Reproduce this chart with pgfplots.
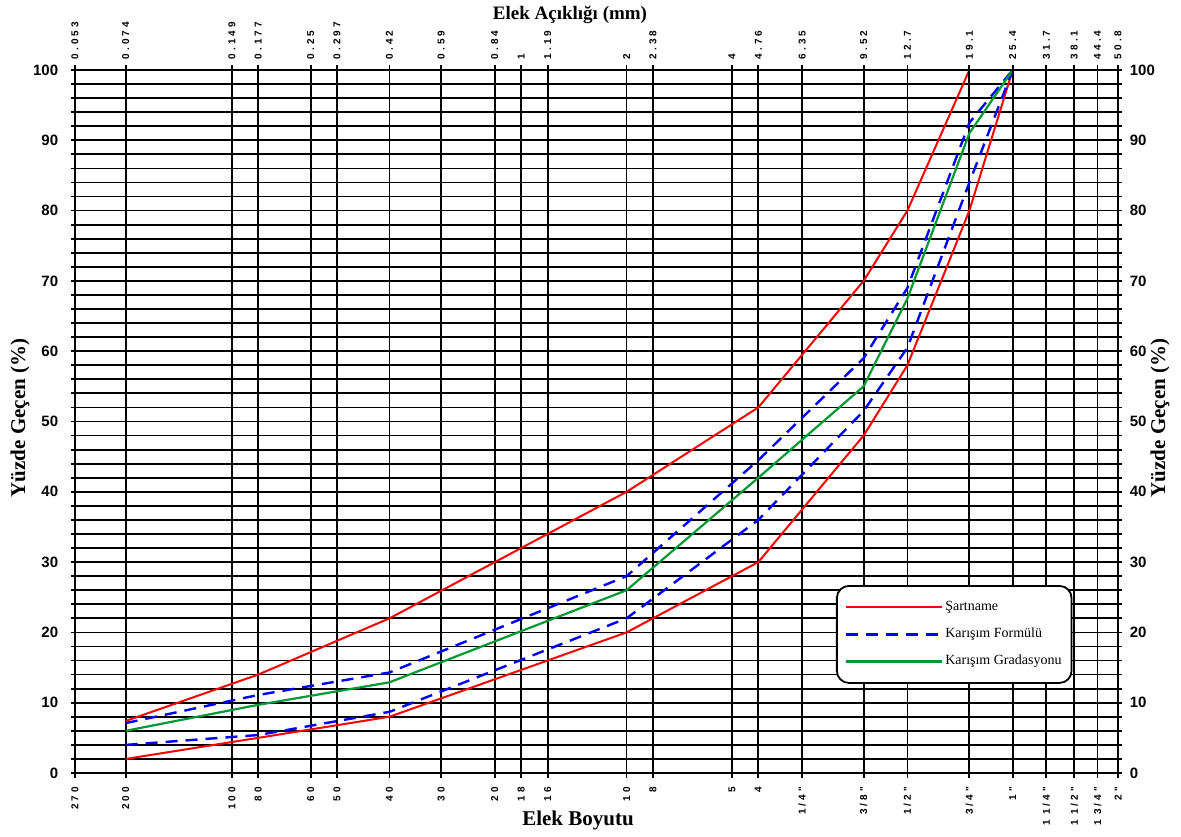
\documentclass[border=0pt]{standalone}
\usepackage{fontspec}
\setmainfont{Liberation Serif}
\newfontfamily\tickfont{Liberation Sans}[LetterSpace=30]
\newfontfamily\ytickfont{Liberation Sans}
\usepackage{pgfplots}
\pgfplotsset{compat=1.18}
\definecolor{sred}{RGB}{255,0,0}
\definecolor{sblue}{RGB}{0,0,255}
\definecolor{sgreen}{RGB}{0,153,51}
\begin{document}
\begin{tikzpicture}
\path[use as bounding box] (0,0) rectangle (590.5pt,418pt);
\begin{axis}[
  xmode=log, xmin=0.053, xmax=50.8, ymin=0, ymax=100,
  at={(37.5pt,31.5pt)}, anchor=south west,
  scale only axis, width=521.5pt, height=351.5pt,
  xtick={0.053,0.074,0.149,0.177,0.25,0.297,0.42,0.59,0.84,1,1.19,2,2.38,4,4.76,6.35,9.52,12.7,19.1,25.4,31.7,38.1,44.4,50.8},
  ytick={0,10,20,30,40,50,60,70,80,90,100},
  yticklabels={0,10,20,30,40,50,60,70,80,90,100},
  minor y tick num=4,
  tick align=center,
  major tick length=4.5pt, minor tick length=4.5pt,
  tick style={black, line width=0.9pt},
  axis line style={black, line width=0.9pt},
  xtick pos=left, ytick pos=left,
  xticklabels={270,200,100,80,60,50,40,30,20,18,16,10,8,5,4,1/4",3/8",1/2",3/4",1",1 1/4",1 1/2",1 3/4",2"},
  xticklabel style={font=\tickfont\bfseries\fontsize{5}{6}\selectfont, rotate=90, inner sep=0pt, anchor=east},
  yticklabel style={font=\ytickfont\bfseries\fontsize{7.5}{8}\selectfont, inner sep=0pt, anchor=east},
  xticklabel shift=4.5pt,
  yticklabel shift=6pt,
  xmajorgrids, ymajorgrids, yminorgrids,
  major grid style={black, line width=0.9pt},
  minor grid style={black, line width=0.9pt},
  legend style={
    at={(0.7296,0.2674)}, anchor=north west,
    draw=black, line width=0.9pt, rounded corners=6pt, fill=white,
    font=\fontsize{7}{8}\selectfont,
    inner xsep=4pt, inner ysep=6.5pt,
    row sep=5pt,
    nodes={inner sep=1pt, text height=5pt, text depth=1.5pt},
  },
  legend cell align=left,
  legend image code/.code={\draw[#1] (0pt,0pt) -- (48pt,0pt);},
]
\addplot[sred, line width=1pt] coordinates {(0.074,2) (0.177,5) (0.42,8) (2.0,20) (4.76,30) (9.52,48) (12.7,58) (19.1,80) (25.4,100)};
\addlegendentry{Şartname}
\addplot[sred, line width=1pt, forget plot] coordinates {(0.074,7.4) (0.177,14) (0.42,22) (2.0,40) (4.76,52) (9.52,70) (12.7,80) (19.1,100)};
\addplot[sblue, line width=1.2pt, dash pattern=on 6pt off 4pt] coordinates {(0.074,7.1) (0.177,11.1) (0.42,14.3) (2.0,28) (4.76,44.5) (9.52,59) (12.7,69) (19.1,92.5) (25.4,100)};
\addlegendentry{Karışım Formülü}
\addplot[sblue, line width=1.2pt, dash pattern=on 6pt off 4pt, forget plot] coordinates {(0.074,4) (0.177,5.4) (0.42,8.7) (2.0,22) (4.76,36) (9.52,51.5) (12.7,60.5) (19.1,84) (25.4,100)};
\addplot[sgreen, line width=1.1pt] coordinates {(0.074,6) (0.177,9.7) (0.42,12.9) (2.0,26) (4.76,42) (9.52,55) (12.7,67.5) (19.1,91) (25.4,100)};
\addlegendentry{Karışım Gradasyonu}
\end{axis}
\begin{axis}[
  xmode=log, xmin=0.053, xmax=50.8, ymin=0, ymax=100,
  at={(37.5pt,31.5pt)}, anchor=south west,
  scale only axis, width=521.5pt, height=351.5pt,
  axis x line*=top, axis y line*=right,
  xtick={0.053,0.074,0.149,0.177,0.25,0.297,0.42,0.59,0.84,1,1.19,2,2.38,4,4.76,6.35,9.52,12.7,19.1,25.4,31.7,38.1,44.4,50.8},
  xticklabels={0.053,0.074,0.149,0.177,0.25,0.297,0.42,0.59,0.84,1,1.19,2,2.38,4,4.76,6.35,9.52,12.7,19.1,25.4,31.7,38.1,44.4,50.8},
  ytick={0,10,20,30,40,50,60,70,80,90,100},
  yticklabels={0,10,20,30,40,50,60,70,80,90,100},
  minor y tick num=4,
  tick align=center,
  major tick length=4.5pt, minor tick length=4.5pt,
  tick style={black, line width=0.9pt},
  axis line style={black, line width=0.9pt},
  xticklabel style={font=\tickfont\bfseries\fontsize{5}{6}\selectfont, rotate=90, inner sep=0pt, anchor=west},
  yticklabel style={font=\ytickfont\bfseries\fontsize{7.5}{8}\selectfont, inner sep=0pt, anchor=west},
  xticklabel shift=3pt,
  yticklabel shift=3.5pt,
]
\addplot[draw=none] coordinates {(1,50)};
\end{axis}
\node[font=\bfseries\fontsize{9.5}{11}\selectfont] at (285pt,410.5pt) {Elek Açıklığı (mm)};
\node[font=\bfseries\fontsize{10.5}{12}\selectfont] at (289pt,8pt) {Elek Boyutu};
\node[rotate=90, font=\bfseries\fontsize{10.5}{12}\selectfont] at (10pt,209pt) {Yüzde Geçen (\%)};
\node[rotate=90, font=\bfseries\fontsize{10.5}{12}\selectfont] at (580pt,209pt) {Yüzde Geçen (\%)};
\end{tikzpicture}
\end{document}
